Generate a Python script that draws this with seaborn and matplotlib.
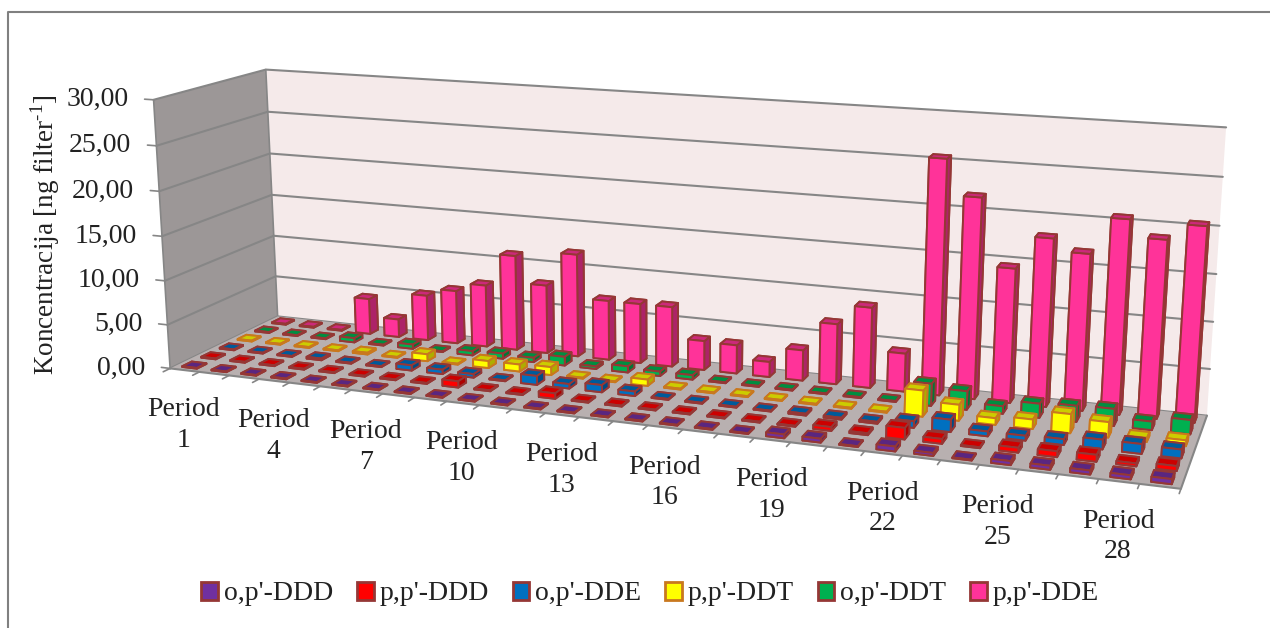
import numpy as np
import matplotlib
matplotlib.use('Agg')
import matplotlib.pyplot as plt
import seaborn as sns
from matplotlib.lines import Line2D
from matplotlib.patches import Patch
from mpl_toolkits.mplot3d.art3d import Poly3DCollection
from mpl_toolkits.mplot3d import proj3d

series = ["o,p'-DDD", "p,p'-DDD", "o,p'-DDE", "p,p'-DDT", "o,p'-DDT", "p,p'-DDE"]
opddd = [.08,.08,.08,.08,.08,.08,.08,.08,.08,.08,.08,.08,.08,.08,.08,.08,.08,.08,.4,.4,.08,.5,.3,.08,.4,.4,.4,.4,.5]
ppddd = [.1,.1,.1,.1,.1,.1,.1,.1,.7,.1,.1,.6,.1,.1,.1,.1,.1,.1,.1,.4,.2,1.2,.5,.1,.5,.6,.7,.3,.5]
opdde = [.1,.1,.1,.2,.1,.1,.6,.5,.4,.1,1.0,.5,.8,.5,.1,.1,.1,.1,.2,.2,.2,.7,1.3,.5,.5,.6,1.0,1.0,.9]
ppddt = [.1,.1,.1,.1,.2,.1,.8,.1,.8,.8,.9,.1,.1,.7,.1,.1,.1,.1,.1,.1,.1,2.8,1.7,.7,1.0,2.0,1.6,.4,.6]
opddt = [.1,.1,.1,.5,.1,.5,.1,.5,.6,.5,1.0,.3,.7,.5,.5,.1,.1,.1,.1,.1,.1,2.4,2.0,.8,1.5,1.7,1.8,.9,1.5]
ppdde = [.1,.1,.1,4.2,2.1,5.3,6.2,7.2,11.0,7.9,11.8,6.8,6.8,6.8,3.3,3.2,1.7,3.4,6.7,8.9,4.2,25.5,21.7,14.5,18.0,16.7,20.6,18.8,20.5]
values = [opddd, ppddd, opdde, ppddt, opddt, ppdde]
colors = ['#7030A0', '#FF0000', '#0070C0', '#FFFF00', '#00B050', '#FF3399']
edges = ['#953735', '#953735', '#953735', '#C9781E', '#953735', '#953735']
z_ticks = [0, 5, 10, 15, 20, 25, 30]
z_labels = ['0,00', '5,00', '10,00', '15,00', '20,00', '25,00', '30,00']
tick_periods = [1, 4, 7, 10, 13, 16, 19, 22, 25, 28]

n = len(ppdde)
W, H = 1270, 628

sns.set_theme(style='white')
plt.rcParams['font.family'] = ['Liberation Serif', 'DejaVu Serif']
plt.rcParams['mathtext.fontset'] = 'custom'
plt.rcParams['mathtext.rm'] = 'Liberation Serif'
palette = sns.color_palette(colors)

fig = plt.figure(figsize=(W / 100, H / 100), dpi=100)
# square axes box, sized so the cube lands where Excel had it
ax = fig.add_axes([119.80 / W, -176.01 / H, 1070.18 / W, 1070.18 / H], projection='3d')
ax.set_xlim(0, n)
ax.set_ylim(0, 6)
ax.set_zlim(0, 30)
ax.view_init(elev=13.865, azim=-69.730)
ax.set_proj_type('persp', focal_length=0.3513)
ax.set_box_aspect((1, 0.2084, 0.2748))
ax.set_axis_off()
ax.patch.set_visible(False)
ax.computed_zorder = False

wall = '#F5EAEA'
side = '#9C9797'
floor = '#B8B0B0'
grid = '#868686'
for verts, fc, zo in [([(0,6,0),(n,6,0),(n,6,30),(0,6,30)], wall, 1),
                      ([(0,0,0),(0,6,0),(0,6,30),(0,0,30)], side, 1),
                      ([(0,0,0),(n,0,0),(n,6,0),(0,6,0)], floor, 2)]:
    poly = Poly3DCollection([verts], facecolor=fc, edgecolor='none', zorder=zo)
    ax.add_collection3d(poly)
    poly.set_clip_on(False)
for zt in z_ticks:
    ax.plot([0, 0, n], [0, 6, 6], [zt, zt, zt], color=grid, lw=1.5, zorder=1.5, clip_on=False)
ax.plot([0, 0], [6, 6], [0, 30], color=grid, lw=1.2, zorder=1.5, clip_on=False)
ax.plot([0, 0], [0, 0], [0, 30], color=grid, lw=1.2, zorder=1.5, clip_on=False)
ax.plot([0, n, n], [0, 0, 6], [0, 0, 0], color=grid, lw=1.5, zorder=2.5, clip_on=False)

M = ax.get_proj()
for i in range(n + 1):
    ax.plot([i, i], [0, -0.35], [0, 0], color=grid, lw=1.2, zorder=2.5, clip_on=False)
for zt, lab in zip(z_ticks, z_labels):
    ax.plot([0, -0.3], [0, 0], [zt, zt], color=grid, lw=1.2, zorder=2.5, clip_on=False)
    u, v, _ = proj3d.proj_transform(0, 0, zt, M)
    ax.annotate(lab, xy=(u, v), xycoords='data', xytext=(-25, 0), textcoords='offset pixels',
                ha='right', va='center', fontsize=20, color='#222222', annotation_clip=False)
for per in tick_periods:
    u, v, _ = proj3d.proj_transform(per - 0.5, 0, 0, M)
    ax.annotate(f'Period\n{per}', xy=(u, v), xycoords='data', xytext=(-1, -55), textcoords='offset pixels',
                ha='center', va='center', fontsize=20, color='#222222', linespacing=1.3, annotation_clip=False)

bar_w = 0.5
xs = np.arange(n) + 0.5 - bar_w / 2
for j in range(5, -1, -1):
    base = np.array(palette[j])
    # bar3d face order: bottom, top, front, back, left, right
    face = []
    for _ in range(n):
        face += [base * .6, base * .8, base, base * .6, base * .6, base * .68]
    bars = ax.bar3d(xs, np.full(n, j + 0.5 - bar_w / 2), np.zeros(n), bar_w, bar_w, values[j],
                    color=face, edgecolor=edges[j], linewidth=1.4, shade=False, zorder=3 + (5 - j))
    bars.set_clip_on(False)

handles = [Patch(facecolor=c, edgecolor=ec, linewidth=2) for c, ec in zip(colors, edges)]
fig.legend(handles, series, loc='center', bbox_to_anchor=(650 / W, 1 - 594 / H), ncol=6, frameon=False,
           fontsize=20, handlelength=0.6, handleheight=0.6, handletextpad=0.2, columnspacing=0.87,
           labelcolor='#222222')
fig.text(45 / W, 1 - 235 / H, r'Koncentracija [ng filter$^{\text{-}1}$]', rotation=90, ha='center', va='center',
         fontsize=19.5, color='#222222')
fig.add_artist(Line2D([8 / W, 8 / W, 1], [0, 1 - 12 / H, 1 - 12 / H], color='#808080', lw=1.5))
fig.savefig('out.png', dpi=100)
